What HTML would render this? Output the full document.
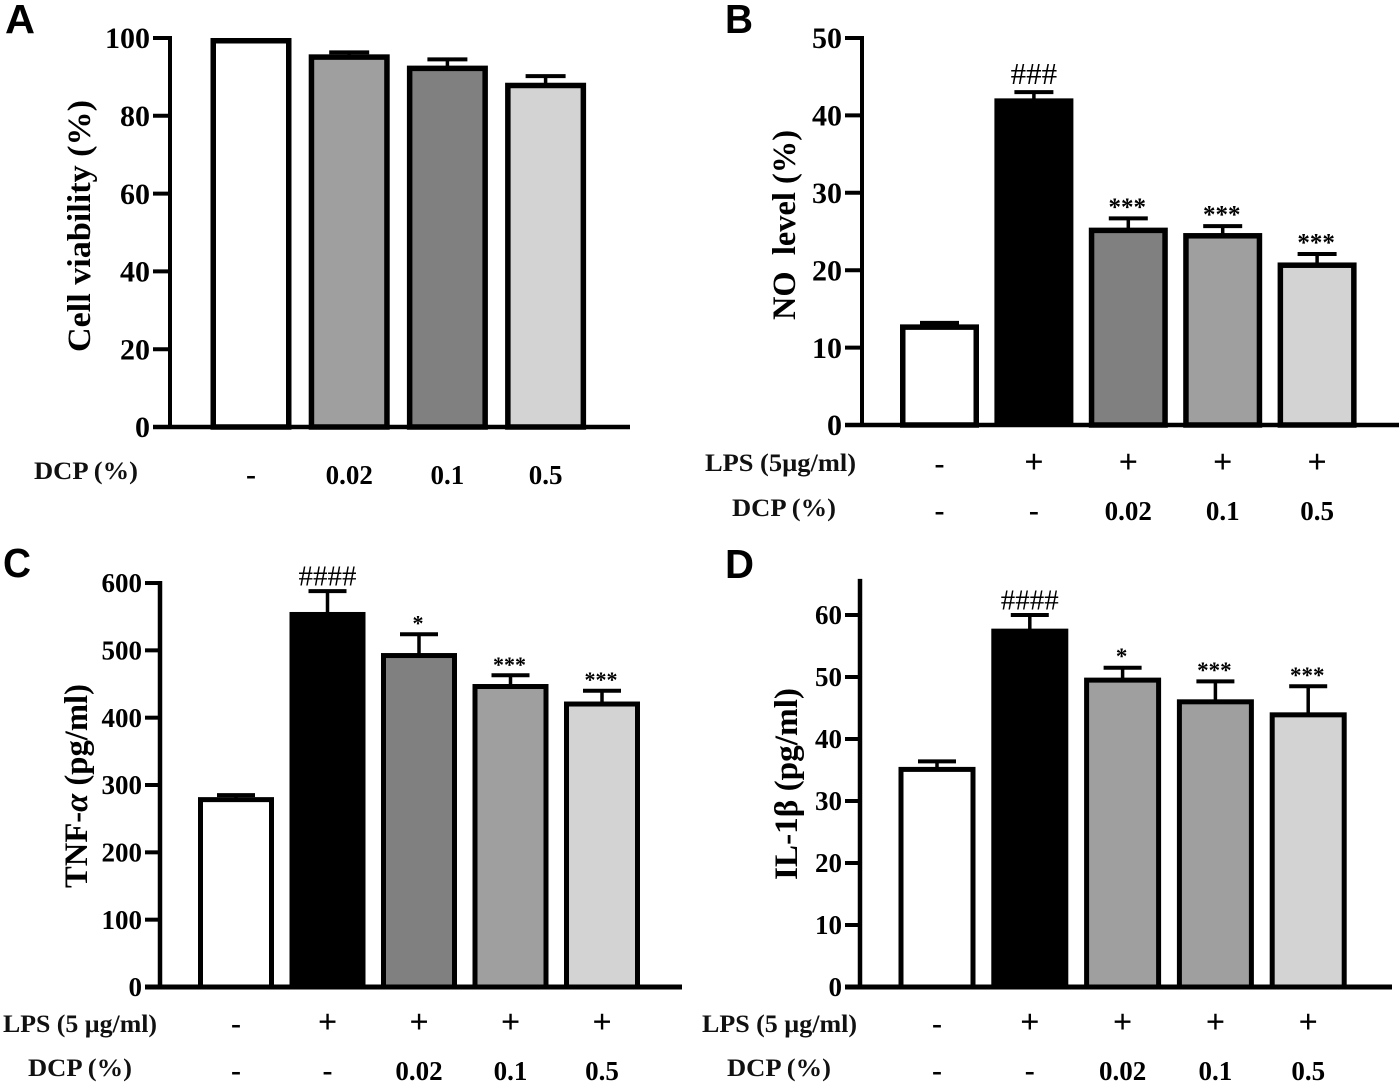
<!DOCTYPE html>
<html lang="en">
<head>
<meta charset="utf-8">
<title>DCP bar charts</title>
<style>
html,body{margin:0;padding:0;background:#fff;}
svg{display:block;filter:blur(0.35px);}
text{font-family:"Liberation Serif",serif;fill:#000;}
.letter{font-family:"Liberation Sans",sans-serif;font-weight:700;font-size:41px;}
.ytitle{font-weight:700;font-size:33px;}
.rowlabel{font-weight:700;font-size:25px;fill:#111;}
</style>
</head>
<body>
<svg id="figure" xmlns="http://www.w3.org/2000/svg" width="1400" height="1084" viewBox="0 0 1400 1084">
  <text class="letter" x="5" y="33" textLength="30" lengthAdjust="spacingAndGlyphs">A</text>
  <text class="letter" x="725" y="33" textLength="28" lengthAdjust="spacingAndGlyphs">B</text>
  <text class="letter" x="3" y="577" textLength="28" lengthAdjust="spacingAndGlyphs">C</text>
  <text class="letter" x="725" y="578" textLength="29" lengthAdjust="spacingAndGlyphs">D</text>

  <text class="ytitle" transform="translate(90,352) rotate(-90)" textLength="252" lengthAdjust="spacingAndGlyphs">Cell viability (%)</text>
  <text class="ytitle" transform="translate(795,320) rotate(-90)" textLength="190" lengthAdjust="spacingAndGlyphs" xml:space="preserve" style="white-space:pre">NO  level (%)</text>
  <text class="ytitle" transform="translate(87,888) rotate(-90)" textLength="204" lengthAdjust="spacingAndGlyphs">TNF-<tspan font-style="italic">α</tspan> (pg/ml)</text>
  <text class="ytitle" transform="translate(797,880) rotate(-90)" textLength="192" lengthAdjust="spacingAndGlyphs">IL-1β (pg/ml)</text>

  <text class="rowlabel" x="34" y="479" textLength="104" lengthAdjust="spacingAndGlyphs">DCP (%)</text>
  <text class="rowlabel" x="705" y="471" textLength="151" lengthAdjust="spacingAndGlyphs">LPS (5µg/ml)</text>
  <text class="rowlabel" x="732" y="516" textLength="104" lengthAdjust="spacingAndGlyphs">DCP (%)</text>
  <text class="rowlabel" x="3" y="1032" textLength="154" lengthAdjust="spacingAndGlyphs">LPS (5 µg/ml)</text>
  <text class="rowlabel" x="28" y="1076" textLength="104" lengthAdjust="spacingAndGlyphs">DCP (%)</text>
  <text class="rowlabel" x="702" y="1032" textLength="155" lengthAdjust="spacingAndGlyphs">LPS (5 µg/ml)</text>
  <text class="rowlabel" x="727" y="1076" textLength="104" lengthAdjust="spacingAndGlyphs">DCP (%)</text>
</svg>
<script>
// Panel A: cell viability
var aTicks = [0, 20, 40, 60, 80, 100];
var aValues = [100, 95.8, 92.9, 88.5];
var aErrors = [0, 0.5, 1.6, 1.7];
var aFills = ['#ffffff', '#9f9fa0', '#808080', '#d3d3d3'];
var aSig = ['', '', '', ''];
var aDcp = ['-', '0.02', '0.1', '0.5'];
var aLps = [];

// Panel B: NO level
var bTicks = [0, 10, 20, 30, 40, 50];
var bValues = [13, 42.2, 25.5, 24.8, 21];
var bErrors = [0.2, 0.8, 1.2, 0.9, 1.1];
var bFills = ['#ffffff', '#000000', '#808080', '#9f9fa0', '#d3d3d3'];
var bSig = ['', '###', '***', '***', '***'];
var bLps = ['-', '+', '+', '+', '+'];
var bDcp = ['-', '-', '0.02', '0.1', '0.5'];

// Panel C: TNF-alpha
var cTicks = [0, 100, 200, 300, 400, 500, 600];
var cValues = [282, 557, 496, 450, 424];
var cErrors = [3, 31, 28, 13, 16];
var cFills = ['#ffffff', '#000000', '#808080', '#9f9fa0', '#d3d3d3'];
var cSig = ['', '####', '*', '***', '***'];
var cLps = ['-', '+', '+', '+', '+'];
var cDcp = ['-', '-', '0.02', '0.1', '0.5'];

// Panel D: IL-1 beta
var dTicks = [0, 10, 20, 30, 40, 50, 60];
var dValues = [35.5, 57.8, 49.9, 46.4, 44.3];
var dErrors = [0.9, 2.2, 1.6, 2.9, 4.2];
var dFills = ['#ffffff', '#000000', '#9f9fa0', '#9f9fa0', '#d3d3d3'];
var dSig = ['', '####', '*', '***', '***'];
var dLps = ['-', '+', '+', '+', '+'];
var dDcp = ['-', '-', '0.02', '0.1', '0.5'];

var SVGNS = 'http://www.w3.org/2000/svg';
var figure = document.getElementById('figure');

function make(tag, attrs) {
  var el = document.createElementNS(SVGNS, tag);
  for (var k in attrs) { el.setAttribute(k, attrs[k]); }
  figure.appendChild(el);
  return el;
}

function line(x1, y1, x2, y2, w) {
  return make('line', {x1: x1, y1: y1, x2: x2, y2: y2, stroke: '#000', 'stroke-width': w});
}

function label(x, y, str, size, weight, anchor) {
  var el = make('text', {x: x, y: y, 'font-size': size, 'font-weight': weight, 'text-anchor': anchor});
  el.textContent = str;
  return el;
}

function drawPanel(id, g, ticks, values, errors, fills, sig, lps, dcp) {
  function yScale(v) { return g.y0 - (v - 0) * g.pxPerUnit; }
  function xCenter(i) { return g.firstCenter + i * g.step; }

  // bars
  values.forEach(function (v, i) {
    var sw = fills[i] === '#000000' ? 1 : g.barStroke;
    var bar = make('rect', {
      x: xCenter(i) - g.barWidth / 2 + sw / 2,
      y: yScale(v) + sw / 2,
      width: g.barWidth - sw,
      height: g.y0 - yScale(v) - sw / 2,
      fill: fills[i],
      stroke: '#000',
      'stroke-width': sw
    });
    
    
  });

  // error bars
  errors.forEach(function (e, i) {
    if (e <= 0) { return; }
    var top = yScale(values[i] + e);
    var stem = line(xCenter(i), yScale(values[i]) + 1, xCenter(i), top, 3.5);
    
    
    var cap = line(xCenter(i) - g.capHalf, top, xCenter(i) + g.capHalf, top, 4);
    
    
  });

  // significance marks
  sig.forEach(function (s, i) {
    if (!s) { return; }
    var top = yScale(values[i] + errors[i]);
    var isHash = s.charAt(0) === '#';
    var size = isHash ? (s.length === 3 ? 31 : 29) : g.starSize;
    var gap = isHash ? (s.length === 3 ? 8 : 5.5) : 3.5;
    var mark = label(xCenter(i) + (isHash ? 0 : -1), top - gap, s, size, isHash ? 400 : 700, 'middle');
    
    
  });

  // axes
  var yAxis = line(g.axisX, yScale(g.yMax) - 2, g.axisX, g.y0 + 2, g.axisW);
  
  
  var xAxis = line(g.axisX - g.tickLen, g.y0, g.xEnd, g.y0, g.baseW);
  
  

  // ticks
  ticks.forEach(function (t) {
    var tick = line(g.axisX - g.tickLen, yScale(t), g.axisX, yScale(t), 4);
    
    
    var tl = label(g.axisX - g.tickLen - 3, yScale(t) + g.tickSize * 0.34, String(t), g.tickSize, 700, 'end');
    
    
  });

  // treatment rows
  lps.forEach(function (s, i) {
    var el = label(xCenter(i), g.lpsY, s, s === '+' ? 34 : 30, 700, 'middle');
    
    
  });
  dcp.forEach(function (s, i) {
    var el = label(xCenter(i), g.dcpY, s, s === '-' ? 30 : 27, 700, 'middle');
    
    
  });
}

drawPanel('a', {y0: 427, pxPerUnit: 3.89, yMax: 100, axisX: 170, axisW: 4, baseW: 4.5, tickLen: 17, xEnd: 630,
  firstCenter: 251, step: 98.2, barWidth: 81, barStroke: 5.5, capHalf: 20, tickSize: 30, starSize: 25, lpsY: 0, dcpY: 484},
  aTicks, aValues, aErrors, aFills, aSig, aLps, aDcp);

drawPanel('b', {y0: 425, pxPerUnit: 7.74, yMax: 50, axisX: 862, axisW: 4, baseW: 4.5, tickLen: 17, xEnd: 1399,
  firstCenter: 939.5, step: 94.4, barWidth: 79, barStroke: 5.5, capHalf: 19.5, tickSize: 30, starSize: 25, lpsY: 473, dcpY: 520},
  bTicks, bValues, bErrors, bFills, bSig, bLps, bDcp);

drawPanel('c', {y0: 987, pxPerUnit: 0.6733, yMax: 600, axisX: 160, axisW: 4.5, baseW: 5, tickLen: 15, xEnd: 682,
  firstCenter: 236, step: 91.5, barWidth: 76, barStroke: 5, capHalf: 19, tickSize: 27, starSize: 22, lpsY: 1033, dcpY: 1080},
  cTicks, cValues, cErrors, cFills, cSig, cLps, cDcp);

drawPanel('d', {y0: 987, pxPerUnit: 6.2, yMax: 65.5, axisX: 860, axisW: 4.5, baseW: 5, tickLen: 15, xEnd: 1392,
  firstCenter: 937, step: 92.8, barWidth: 77, barStroke: 5, capHalf: 19, tickSize: 27, starSize: 23, lpsY: 1033, dcpY: 1080},
  dTicks, dValues, dErrors, dFills, dSig, dLps, dDcp);
</script>
</body>
</html>
